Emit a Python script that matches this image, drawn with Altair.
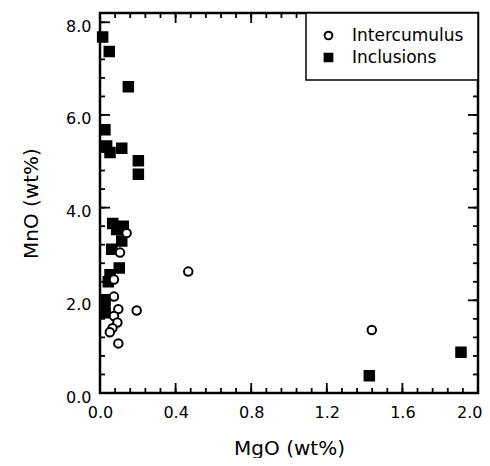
import altair as alt
import pandas as pd

# Inclusions (filled squares)
inc_mgo = [0.014, 0.049, 0.150, 0.026, 0.035, 0.053, 0.115, 0.203, 0.203,
           0.067, 0.123, 0.088, 0.115, 0.062, 0.102, 0.053, 0.044,
           0.026, 0.026, 0.026, 1.425, 1.910]
inc_mno = [7.68, 7.37, 6.61, 5.68, 5.33, 5.19, 5.28, 5.01, 4.72,
           3.66, 3.60, 3.53, 3.28, 3.10, 2.70, 2.55, 2.40,
           2.01, 1.86, 1.73, 0.37, 0.88]

# Intercumulus (open circles)
int_mgo = [0.141, 0.106, 0.467, 0.074, 0.074, 0.097, 0.194, 0.074,
           0.092, 0.066, 0.052, 0.097, 1.438]
int_mno = [3.45, 3.03, 2.62, 2.45, 2.08, 1.81, 1.78, 1.66,
           1.52, 1.40, 1.31, 1.07, 1.36]

series = ["Intercumulus", "Inclusions"]

x_major = [0.0, 0.4, 0.8, 1.2, 1.6, 2.0]
x_minor = [round(i * 0.08, 2) for i in range(26)]
y_major = [0.0, 2.0, 4.0, 6.0, 8.0]
y_minor = [round(i * 0.4, 1) for i in range(21)]

XMAX, YMAX = 2.0, 8.2

# tick rows: (MgO, MnO, kind) along the four edges of the frame
rows = []
for v in x_minor:
    rows += [(v, 0.0, "b5"), (v, YMAX, "t5")]
for v in x_major:
    rows += [(v, 0.0, "b10"), (v, YMAX, "t10")]
for v in y_minor:
    rows += [(0.0, v, "l5"), (XMAX, v, "r5")]
for v in y_major:
    rows += [(0.0, v, "l10"), (XMAX, v, "r10")]

df = pd.DataFrame({
    "MgO": inc_mgo + int_mgo + [r[0] for r in rows],
    "MnO": inc_mno + int_mno + [r[1] for r in rows],
    "type": (["Inclusions"] * len(inc_mgo) + ["Intercumulus"] * len(int_mgo)
             + [r[2] for r in rows]),
})

FONT = "DejaVu Sans"
W, H = 378, 380
xs = alt.Scale(domain=[0, XMAX], nice=False, zero=False)
ys = alt.Scale(domain=[0, YMAX], nice=False, zero=False)

xaxis = alt.Axis(values=x_major, format=".1f", ticks=False, domain=False, grid=False,
                 labelFlush=False, labelPadding=11, labelFontSize=16,
                 labelAlign={"condition": {"test": "datum.value >= 1.99", "value": "right"},
                             "value": "center"},
                 labelOffset={"condition": {"test": "datum.value >= 1.99", "value": 4},
                              "value": 0},
                 title="MgO (wt%)", titleFontSize=20, titlePadding=18)
yaxis = alt.Axis(values=y_major, format=".1f", ticks=False, domain=False, grid=False,
                 labelFlush=False, labelPadding=9, labelFontSize=16, labelOffset=4,
                 title="MnO (wt%)", titleFontSize=20, titlePadding=24)

leg = alt.Legend(title=None, orient="top-right", offset=0,
                 padding=14, labelOffset=15, labelFontSize=17,
                 symbolSize=60, symbolStrokeColor="black",
                 symbolStrokeWidth=2, strokeColor="black",
                 fillColor="white", rowPadding=4)

X = alt.X("MgO:Q", scale=xs, axis=xaxis)
Y = alt.Y("MnO:Q", scale=ys, axis=yaxis)

src = alt.Chart(df)

base = src.encode(
    x=X, y=Y,
    fill=alt.Fill("type:N", scale=alt.Scale(domain=series, range=["white", "black"]),
                  legend=leg),
    shape=alt.Shape("type:N", scale=alt.Scale(domain=series, range=["circle", "square"]),
                    legend=leg),
    stroke=alt.Stroke("type:N", scale=alt.Scale(domain=series, range=["black", "black"]),
                      legend=leg),
)
squares = base.transform_filter(alt.datum.type == "Inclusions").mark_point(
    filled=True, strokeWidth=1.5, opacity=1, size=100)
circles = base.transform_filter(alt.datum.type == "Intercumulus").mark_point(
    filled=True, strokeWidth=2, opacity=1, size=72)

# inward tick shapes (custom symbol paths, unit = sqrt(size)/2 px)
paths = {"b": "M0,0L0,-1", "t": "M0,0L0,1", "l": "M0,0L1,0", "r": "M0,0L-1,0"}
tick_layers = []
for side, path in paths.items():
    for length in (5, 10):
        tick_layers.append(
            src.transform_filter(alt.datum.type == f"{side}{length}").mark_point(
                shape=path, size=(2 * length) ** 2, filled=False, stroke="black",
                strokeWidth=1.8, opacity=1
            ).encode(x=X, y=Y)
        )

chart = alt.layer(squares, circles, *tick_layers).properties(
    width=W, height=H,
    padding={"left": 92, "top": 5, "right": 4, "bottom": 65},
    autosize=alt.AutoSizeParams(type="none"),
).configure_view(
    stroke="black", strokeWidth=2.5
).configure_axis(
    labelFont=FONT, titleFont=FONT, labelColor="black", titleColor="black",
    titleFontWeight="normal",
).configure_legend(
    labelFont=FONT, labelColor="black", strokeWidth=1.5,
)

chart.save("out.html", embed_options={"renderer": "svg", "actions": False})
